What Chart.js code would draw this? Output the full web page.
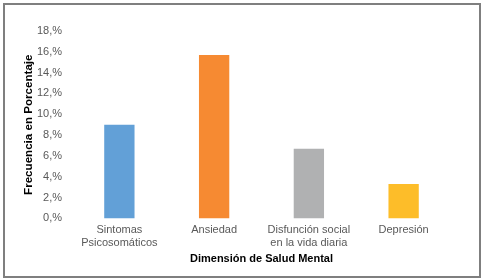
<!DOCTYPE html>
<html>
<head>
<meta charset="utf-8">
<script src="https://cdn.jsdelivr.net/npm/chart.js@4"></script>
<style>
  html, body { margin: 0; padding: 0; background: #fff; }
  .frame {
    position: absolute; left: 3px; top: 3px;
    width: 474px; height: 271px;
    border: 2px solid #7f7f7f;
  }
  canvas { display: block; }
</style>
</head>
<body>
<div class="frame"><canvas id="chart" width="474" height="271"></canvas></div>
<script>
// categories and values
const categories = [
  ['Sintomas', 'Psicosomáticos'],
  'Ansiedad',
  ['Disfunción social', 'en la vida diaria'],
  'Depresión'
];
const percentages = [9.0, 15.7, 6.7, 3.3];
const barColors = ['#62a0d7', '#f68a32', '#b0b1b2', '#fdbd29'];
const yTicks = [0, 2, 4, 6, 8, 10, 12, 14, 16, 18];

const fontFamily = '"Liberation Sans", Arial, sans-serif';

new Chart(document.getElementById('chart'), {
  type: 'bar',
  data: {
    labels: categories,
    datasets: [{
      data: percentages,
      backgroundColor: barColors,
      borderWidth: 0,
      categoryPercentage: 0.8,
      barPercentage: 0.4
    }]
  },
  options: {
    responsive: false,
    animation: false,
    layout: { padding: { left: 13, right: 28, top: 26, bottom: 10 } },
    plugins: { legend: { display: false }, tooltip: { enabled: false } },
    scales: {
      x: {
        grid: { display: false, drawTicks: false },
        border: { display: false },
        ticks: {
          color: '#595959',
          padding: 5,
          maxRotation: 0,
          font: { family: fontFamily, size: 11 }
        },
        title: {
          display: true,
          text: 'Dimensión de Salud Mental',
          color: '#000',
          padding: { top: -2, bottom: 0 },
          font: { family: fontFamily, size: 11, weight: 'bold' }
        }
      },
      y: {
        min: 0,
        max: 18,
        afterBuildTicks: (scale) => {
          scale.ticks = yTicks.map(v => ({ value: v }));
        },
        afterFit: (scale) => { scale.width = 54; },
        grid: { display: false, drawTicks: false },
        border: { display: false },
        ticks: {
          color: '#595959',
          padding: 10,
          font: { family: fontFamily, size: 11 },
          callback: (v) => v + ',%'
        },
        title: {
          display: true,
          text: 'Frecuencia en Porcentaje',
          color: '#000',
          padding: { top: 4, bottom: 4 },
          font: { family: fontFamily, size: 11.6, weight: 'bold' }
        }
      }
    }
  }
});
</script>
</body>
</html>
